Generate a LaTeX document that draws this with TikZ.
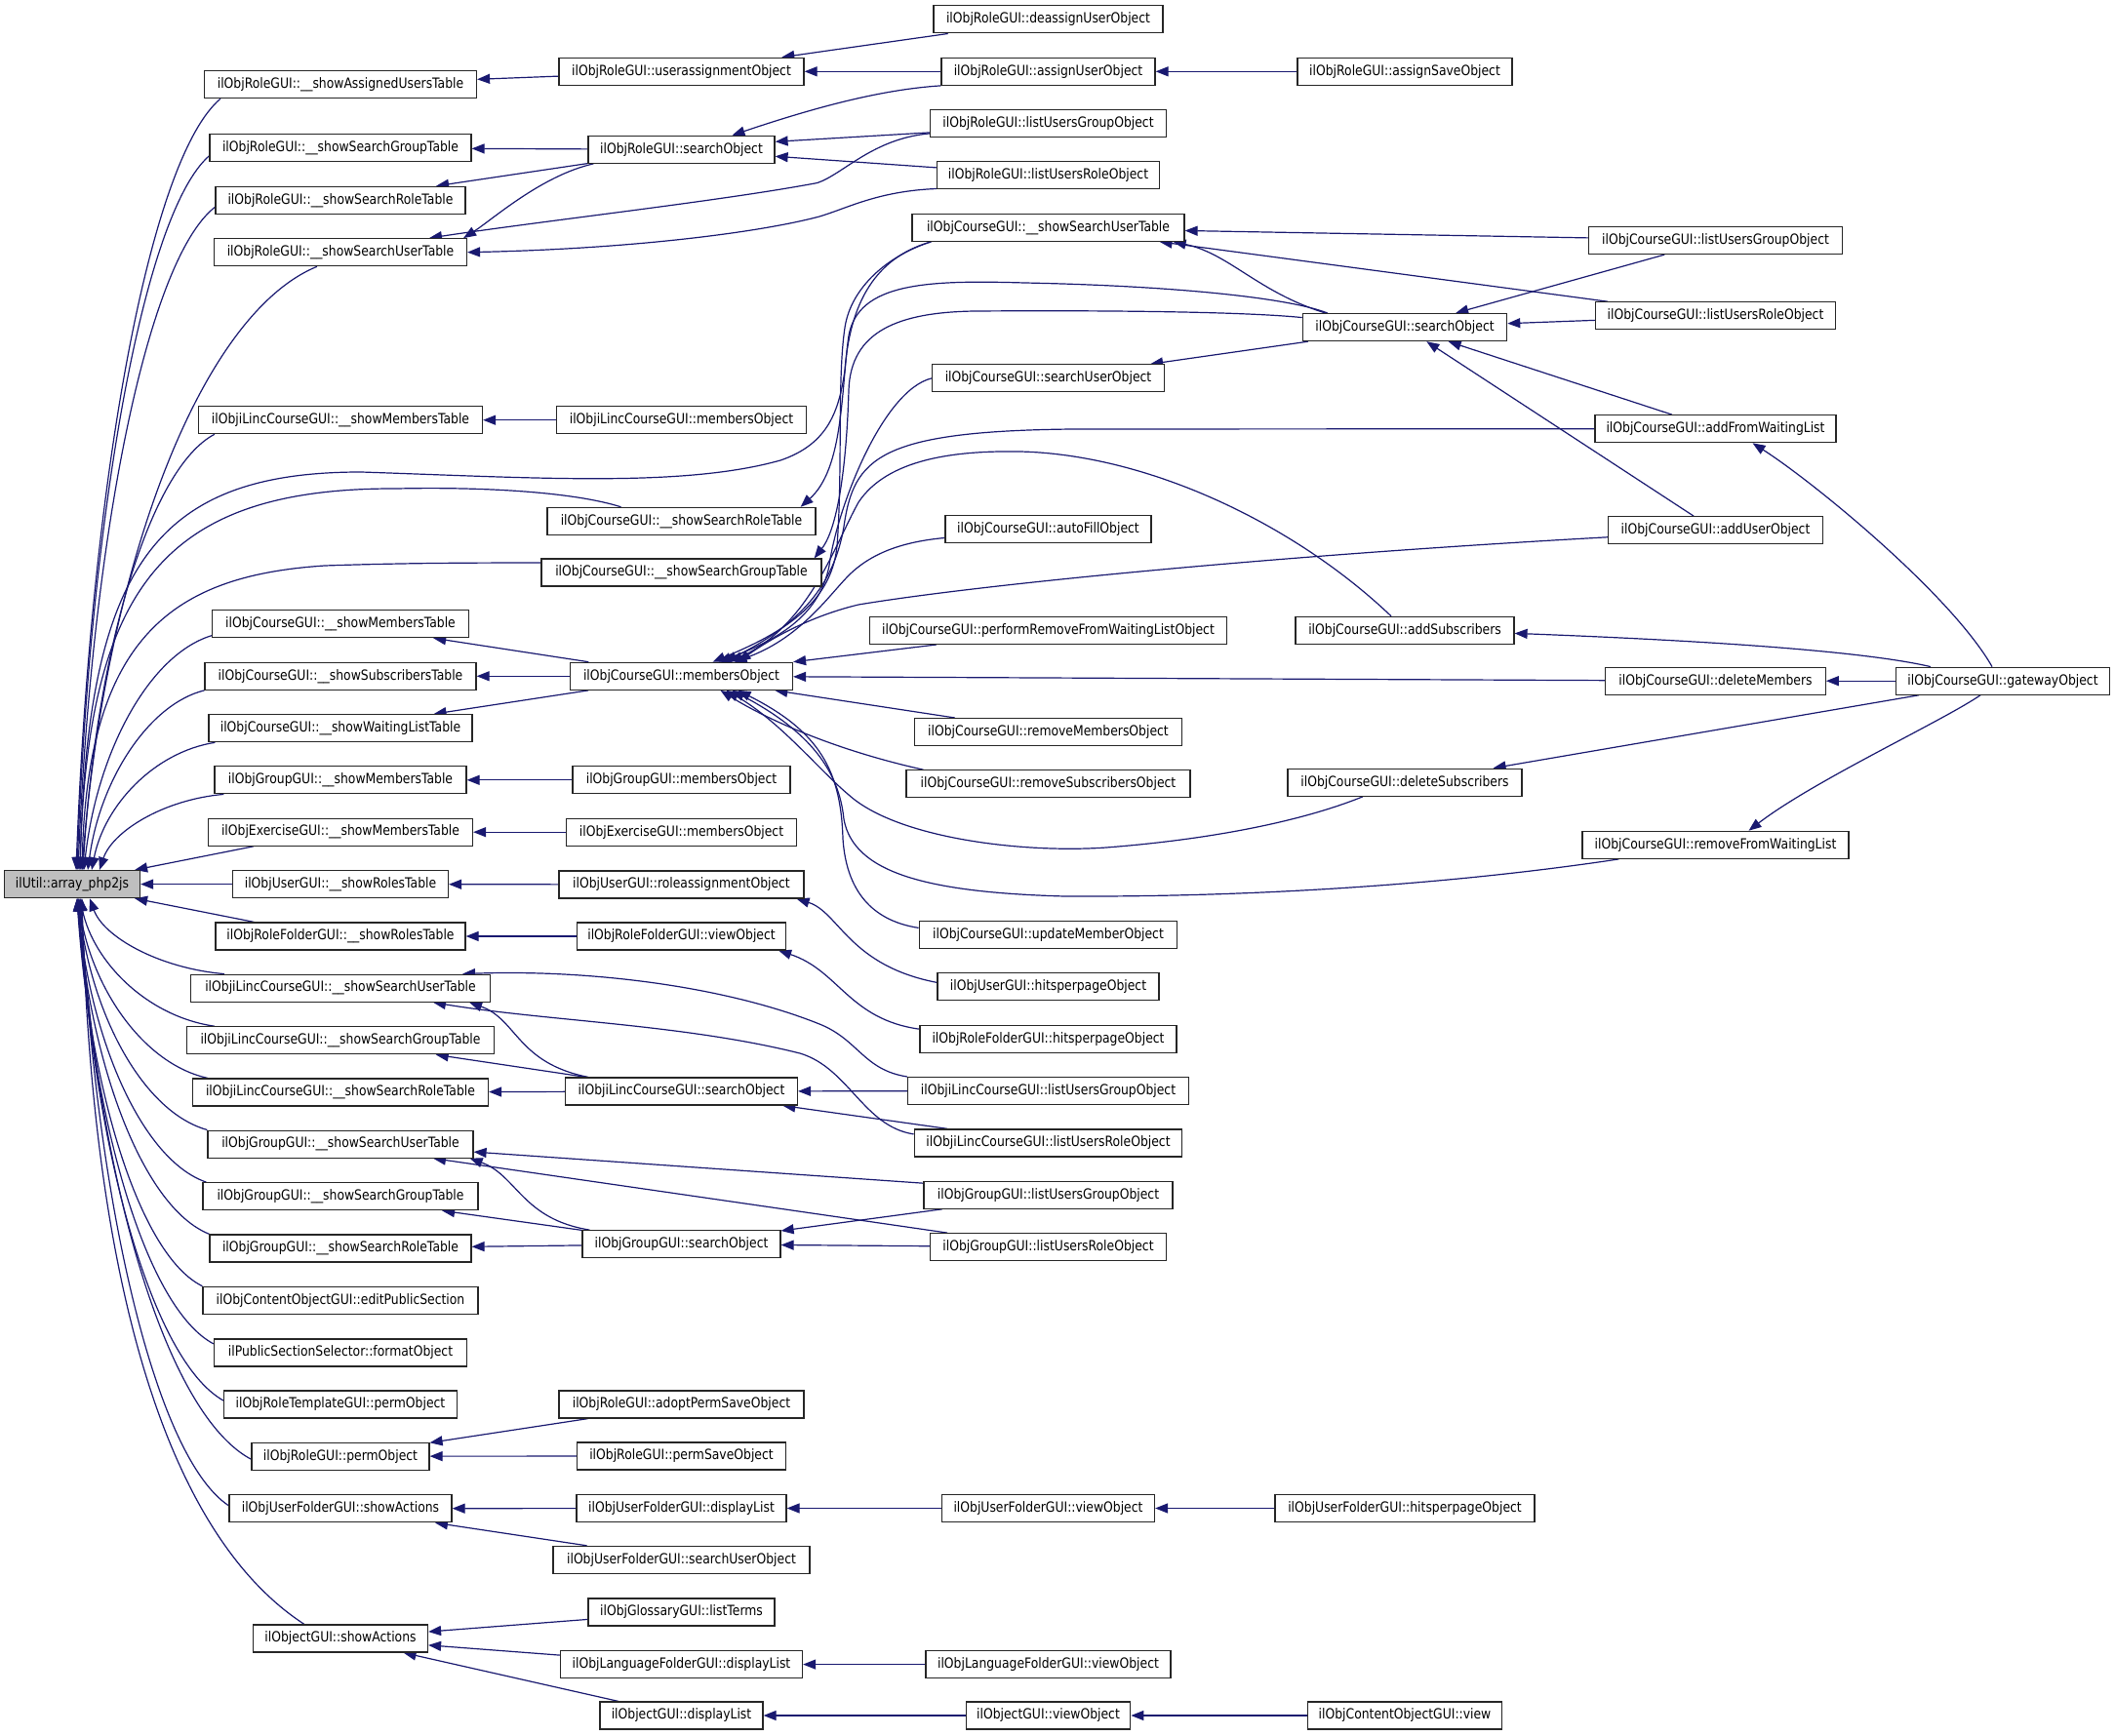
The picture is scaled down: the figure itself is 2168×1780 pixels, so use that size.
\documentclass[tikz,border=0pt]{standalone}
\usepackage{fontspec}
\newfontfamily\dgfont{DejaVu Sans}[FakeStretch=0.86]
\usetikzlibrary{arrows.meta}
\definecolor{dgblue}{HTML}{191970}
\pgfdeclarelayer{edgelayer}
\pgfsetlayers{edgelayer,main}
\tikzset{
  gbox/.style={draw=black!85, line width=0.6pt, fill=white, minimum height=14pt, inner sep=0pt,
    font=\dgfont\fontsize{7.2}{8}\selectfont},
  groot/.style={gbox, fill=black!25},
  gedge/.style={draw=dgblue, line width=0.6pt, arrows={Triangle[length=6.5pt,width=5pt,fill=dgblue]-}}
}
\newcommand\gnode[5]{\node[gbox, minimum width=#4pt] (#1) at (#2,#3) {#5};}
\begin{document}
\begin{tikzpicture}[x=0.5pt,y=-0.5pt]
\useasboundingbox (0,0) rectangle (2168,1780);
% ---------- nodes ----------
\node[groot, minimum width=69.5pt] (root) at (74,906.6) {ilUtil::array\_php2js};
% column 1
\gnode{c1a}{349}{86.7}{139.5}{ilObjRoleGUI::\_\_showAssignedUsersTable}
\gnode{c1b}{349}{151.8}{134}{ilObjRoleGUI::\_\_showSearchGroupTable}
\gnode{c1c}{349}{205.3}{128}{ilObjRoleGUI::\_\_showSearchRoleTable}
\gnode{c1d}{349}{258.7}{129.5}{ilObjRoleGUI::\_\_showSearchUserTable}
\gnode{c1e}{349}{430.7}{145.5}{ilObjiLincCourseGUI::\_\_showMembersTable}
\gnode{c1f}{349}{639.7}{131.5}{ilObjCourseGUI::\_\_showMembersTable}
\gnode{c1g}{349}{693.3}{139}{ilObjCourseGUI::\_\_showSubscribersTable}
\gnode{c1h}{349}{746.7}{135}{ilObjCourseGUI::\_\_showWaitingListTable}
\gnode{c1i}{349}{799.8}{129}{ilObjGroupGUI::\_\_showMembersTable}
\gnode{c1j}{349}{853.2}{135.5}{ilObjExerciseGUI::\_\_showMembersTable}
\gnode{c1k}{349}{906.6}{110.5}{ilObjUserGUI::\_\_showRolesTable}
\gnode{c1l}{349}{960}{128}{ilObjRoleFolderGUI::\_\_showRolesTable}
\gnode{c1m}{349}{1013.2}{153.5}{ilObjiLincCourseGUI::\_\_showSearchUserTable}
\gnode{c1n}{349}{1066.8}{157.5}{ilObjiLincCourseGUI::\_\_showSearchGroupTable}
\gnode{c1o}{349}{1120}{151.5}{ilObjiLincCourseGUI::\_\_showSearchRoleTable}
\gnode{c1p}{349}{1173.1}{136}{ilObjGroupGUI::\_\_showSearchUserTable}
\gnode{c1q}{349}{1226.7}{141}{ilObjGroupGUI::\_\_showSearchGroupTable}
\gnode{c1r}{349}{1279.9}{134}{ilObjGroupGUI::\_\_showSearchRoleTable}
\gnode{c1s}{349}{1333.3}{141}{ilObjContentObjectGUI::editPublicSection}
\gnode{c1t}{349}{1386.9}{129.5}{ilPublicSectionSelector::formatObject}
\gnode{c1u}{349}{1440}{119.5}{ilObjRoleTemplateGUI::permObject}
\gnode{c1v}{349}{1493.2}{91}{ilObjRoleGUI::permObject}
\gnode{c1w}{349}{1546.8}{114}{ilObjUserFolderGUI::showActions}
\gnode{c1x}{349}{1680}{89.5}{ilObjectGUI::showActions}
% column 2
\gnode{c2a}{698.5}{73.3}{125.5}{ilObjRoleGUI::userassignmentObject}
\gnode{c2b}{698.5}{153.3}{95.5}{ilObjRoleGUI::searchObject}
\gnode{c2c}{698.5}{430.7}{128}{ilObjiLincCourseGUI::membersObject}
\gnode{c2d}{698.5}{534.4}{137.5}{ilObjCourseGUI::\_\_showSearchRoleTable}
\gnode{c2e}{698.5}{587.1}{143.5}{ilObjCourseGUI::\_\_showSearchGroupTable}
\gnode{c2f}{698.5}{693.3}{114}{ilObjCourseGUI::membersObject}
\gnode{c2g}{698.5}{799.8}{111.5}{ilObjGroupGUI::membersObject}
\gnode{c2h}{698.5}{853.2}{118}{ilObjExerciseGUI::membersObject}
\gnode{c2i}{698.5}{907}{125.5}{ilObjUserGUI::roleassignmentObject}
\gnode{c2j}{698.5}{960}{107}{ilObjRoleFolderGUI::viewObject}
\gnode{c2k}{698.5}{1119}{119}{ilObjiLincCourseGUI::searchObject}
\gnode{c2l}{698.5}{1275.7}{101.5}{ilObjGroupGUI::searchObject}
\gnode{c2m}{698.5}{1440}{125.5}{ilObjRoleGUI::adoptPermSaveObject}
\gnode{c2n}{698.5}{1493}{107}{ilObjRoleGUI::permSaveObject}
\gnode{c2o}{698.5}{1546.5}{107.5}{ilObjUserFolderGUI::displayList}
\gnode{c2p}{698.5}{1599.4}{131.5}{ilObjUserFolderGUI::searchUserObject}
\gnode{c2q}{698.5}{1653}{95.5}{ilObjGlossaryGUI::listTerms}
\gnode{c2r}{698.5}{1706.6}{124}{ilObjLanguageFolderGUI::displayList}
\gnode{c2s}{698.5}{1759}{83.5}{ilObjectGUI::displayList}
% column 3
\gnode{c3a}{1074.5}{19.9}{117.5}{ilObjRoleGUI::deassignUserObject}
\gnode{c3b}{1074.5}{73.3}{109.5}{ilObjRoleGUI::assignUserObject}
\gnode{c3c}{1074.5}{126.9}{120.75}{ilObjRoleGUI::listUsersGroupObject}
\gnode{c3d}{1074.5}{179.9}{114}{ilObjRoleGUI::listUsersRoleObject}
\gnode{c3e}{1074.5}{233.3}{139.5}{ilObjCourseGUI::\_\_showSearchUserTable}
\gnode{c3f}{1074.5}{387.9}{119}{ilObjCourseGUI::searchUserObject}
\gnode{c3g}{1074.5}{542.5}{105.5}{ilObjCourseGUI::autoFillObject}
\gnode{c3h}{1074.5}{646.4}{183}{ilObjCourseGUI::performRemoveFromWaitingListObject}
\gnode{c3i}{1074.5}{750.6}{137.25}{ilObjCourseGUI::removeMembersObject}
\gnode{c3j}{1074.5}{803.8}{145.5}{ilObjCourseGUI::removeSubscribersObject}
\gnode{c3k}{1074.5}{958.4}{132.25}{ilObjCourseGUI::updateMemberObject}
\gnode{c3l}{1074.5}{1011.4}{113.5}{ilObjUserGUI::hitsperpageObject}
\gnode{c3m}{1074.5}{1065.2}{131.5}{ilObjRoleFolderGUI::hitsperpageObject}
\gnode{c3n}{1074.5}{1118.6}{144}{ilObjiLincCourseGUI::listUsersGroupObject}
\gnode{c3o}{1074.5}{1171.9}{137.25}{ilObjiLincCourseGUI::listUsersRoleObject}
\gnode{c3p}{1074.5}{1225.2}{127.5}{ilObjGroupGUI::listUsersGroupObject}
\gnode{c3q}{1074.5}{1278.7}{120.75}{ilObjGroupGUI::listUsersRoleObject}
\gnode{c3r}{1074.5}{1546.5}{109}{ilObjUserFolderGUI::viewObject}
\gnode{c3s}{1074.5}{1706.6}{125.5}{ilObjLanguageFolderGUI::viewObject}
\gnode{c3t}{1074.5}{1759}{84.25}{ilObjectGUI::viewObject}
% column 4
\gnode{c4a}{1440}{73.3}{110}{ilObjRoleGUI::assignSaveObject}
\gnode{c4b}{1440}{335.6}{104.7}{ilObjCourseGUI::searchObject}
\gnode{c4c}{1440}{646.4}{112}{ilObjCourseGUI::addSubscribers}
\gnode{c4d}{1440}{802.2}{120}{ilObjCourseGUI::deleteSubscribers}
\gnode{c4e}{1440}{1546.5}{133}{ilObjUserFolderGUI::hitsperpageObject}
\gnode{c4f}{1440}{1759}{99.5}{ilObjContentObjectGUI::view}
% column 5
\gnode{c5a}{1758.5}{246.5}{130}{ilObjCourseGUI::listUsersGroupObject}
\gnode{c5b}{1758.5}{323.8}{123}{ilObjCourseGUI::listUsersRoleObject}
\gnode{c5c}{1758.5}{439.7}{123.5}{ilObjCourseGUI::addFromWaitingList}
\gnode{c5d}{1758.5}{543.8}{110}{ilObjCourseGUI::addUserObject}
\gnode{c5e}{1758.5}{698.2}{112.75}{ilObjCourseGUI::deleteMembers}
\gnode{c5f}{1758.5}{866.3}{136.5}{ilObjCourseGUI::removeFromWaitingList}
% column 6
\gnode{c6}{2053}{698.2}{109.5}{ilObjCourseGUI::gatewayObject}
% ---------- edges ----------
\begin{pgfonlayer}{edgelayer}
\fill[white] (0,0) rectangle (2168,1780);
% root, callers above
\draw[gedge] ([xshift=2pt]root.north) .. controls (93,496) and (152.5,163.6) .. ([xshift=8.5pt]c1a.south west);
\draw[gedge] ([xshift=2.5pt]root.north) .. controls (92.6,526.5) and (147,219) .. ([yshift=-4pt]c1b.west);
\draw[gedge] ([xshift=3pt]root.north) .. controls (94,552.4) and (150.5,266.8) .. ([yshift=-3.5pt]c1c.west);
\draw[gedge] ([xshift=5pt]root.north) .. controls (108,582.6) and (204.8,322.5) .. ([xshift=-12pt]c1d.south);
\draw[gedge] ([xshift=5.5pt]root.north) .. controls (98.6,668.5) and (153,480.5) .. ([xshift=8.5pt]c1e.south west);
\draw[gedge] ([xshift=4pt]root.north) .. controls (90,580) and (160,484) .. (370,484)
   .. controls (550,490) and (700,500) .. (800,472) .. controls (850,455) and (860,420) .. (866,380)
   .. controls (872,300) and (905,262) .. ([xshift=10pt]c3e.south west);
\draw[gedge] ([xshift=4pt]root.north) .. controls (90,600) and (170,500) .. (407,501)
   .. controls (500,499) and (590,505) .. ([xshift=-31pt]c2d.north);
\draw[gedge] ([xshift=5pt]root.north) .. controls (90,650) and (180,590) .. (333,580)
   .. controls (420,577) and (500,577) .. ([yshift=5pt]c2e.west);
\draw[gedge] ([xshift=6pt]root.north) .. controls (99.2,772.4) and (152,671.6) .. ([yshift=-6pt]c1f.west);
\draw[gedge] ([xshift=8pt]root.north) .. controls (102.5,799.9) and (152.3,722) .. (c1g.south west);
\draw[gedge] ([xshift=10pt]root.north) .. controls (106.7,826.5) and (157.4,771.2) .. ([xshift=3.5pt]c1h.south west);
\draw[gedge] ([xshift=14pt]root.north) .. controls (115,853) and (166.5,820) .. ([xshift=5pt]c1i.south west);
\draw[gedge] ([xshift=-3pt]root.north east) -- ([xshift=23.5pt]c1j.south west);
\draw[gedge] (root) -- (c1k);
% root, callers below
\draw[gedge] ([xshift=-3pt]root.south east) -- ([xshift=20pt]c1l.north west);
\draw[gedge] ([xshift=9pt]root.south) .. controls (105.9,960) and (161.5,992.5) .. ([xshift=17.5pt]c1m.north west);
\draw[gedge] ([xshift=4pt]root.south) .. controls (95.9,986.8) and (151.4,1042.4) .. ([xshift=14.5pt]c1n.north west);
\draw[gedge] ([xshift=3pt]root.south) .. controls (93.5,1013.3) and (147.3,1091.2) .. ([xshift=8pt]c1o.north west);
\draw[gedge] ([xshift=3pt]root.south) .. controls (93.3,1040) and (146.6,1140.2) .. (c1p.north west);
\draw[gedge] ([xshift=2.5pt]root.south) .. controls (92.4,1066.8) and (145.8,1189.5) .. ([xshift=2pt]c1q.north west);
\draw[gedge] ([xshift=2.5pt]root.south) .. controls (92.6,1093.3) and (147,1238.4) .. (c1r.north west);
\draw[gedge] ([xshift=2.5pt]root.south) .. controls (92,1120) and (143.6,1287.4) .. (c1s.north west);
\draw[gedge] ([xshift=3pt]root.south) .. controls (94,1149.3) and (150,1341.4) .. ([yshift=4.5pt]c1t.west);
\draw[gedge] ([xshift=3.5pt]root.south) .. controls (95.9,1178.2) and (155.3,1394.4) .. ([yshift=2pt]c1u.west);
\draw[gedge] ([xshift=4pt]root.south) .. controls (99.6,1208.3) and (170,1450) .. ([yshift=-1.5pt]c1v.west);
\draw[gedge] ([xshift=4.5pt]root.south) .. controls (98.2,1232.2) and (159,1493.8) .. ([yshift=1.5pt]c1w.west);
\draw[gedge] ([xshift=5pt]root.south) .. controls (95.4,1330.75) and (175.4,1576.6) .. ([xshift=26.5pt]c1x.north west);
% role GUI
\draw[gedge] (c1a) -- (c2a);
\draw[gedge] (c2a) -- (c3a);
\draw[gedge] (c2a) -- (c3b);
\draw[gedge] (c3b) -- (c4a);
\draw[gedge] (c1b) -- (c2b);
\draw[gedge] (c1c) -- (c2b);
\draw[gedge] ([xshift=-2pt]c1d.north east) .. controls (505,225) and (555,180) .. ([xshift=3pt]c2b.south west);
\draw[gedge] ([xshift=45.5pt]c1d.north) .. controls (560,226) and (740,206) .. (838,187.5)
   .. controls (865,178) and (895,142) .. ([yshift=-5pt]c3c.west);
\draw[gedge] (c1d.east) .. controls (650,255) and (780,238) .. (840,222)
   .. controls (870,213) and (900,196) .. ([yshift=0.5pt]c3d.south west);
\draw[gedge] ([xshift=26pt]c2b.north) .. controls (830,112) and (900,92) .. (c3b.south west);
\draw[gedge] ([yshift=4pt]c2b.east) -- ([yshift=-4.5pt]c3c.west);
\draw[gedge] ([yshift=-3.5pt]c2b.east) -- ([yshift=4pt]c3d.west);
\draw[gedge] (c1e) -- (c2c);
% course GUI
\draw[gedge] (c1f) -- (c2f);
\draw[gedge] (c1g) -- (c2f);
\draw[gedge] (c1h) -- (c2f);
\draw[gedge] ([xshift=-8pt]c2d.north east) .. controls (865,480) and (862,400) .. (870,344)
   .. controls (880,290) and (950,287) .. (1050,290) .. controls (1200,293) and (1320,305) .. ([xshift=13pt]c4b.north west);
\draw[gedge] ([xshift=-4pt]c2e.north east) .. controls (860,540) and (868,470) .. (870,400)
   .. controls (872,340) and (920,320) .. (1000,319) .. controls (1150,318) and (1280,320) .. ([yshift=5pt]c4b.west);
\draw[gedge] ([yshift=-1.6pt]c3e.east) -- ([yshift=1.3pt]c5a.west);
\draw[gedge] ([xshift=-13pt]c3e.south east) -- ([xshift=6.5pt]c5b.north west);
\draw[gedge] ([xshift=-6pt]c3e.south east) .. controls (1260,260) and (1290,300) .. ([xshift=12pt]c4b.north west);
\draw[gedge] ([xshift=-7.5pt]c3f.north east) -- ([xshift=3pt]c4b.south west);
\draw[gedge] (c4b) -- (c5a);
\draw[gedge] (c4b) -- (c5b);
\draw[gedge] (c4b) -- (c5c);
\draw[gedge] (c4b) -- (c5d);
\draw[gedge] ([xshift=19pt]c5c.south) .. controls (1860,495) and (2000,610) .. ([xshift=-5.5pt]c6.north);
\draw[gedge] ([yshift=-1.5pt]c4c.east) .. controls (1700,655) and (1900,665) .. ([xshift=18pt]c6.north west);
\draw[gedge] (c5e) -- (c6);
\draw[gedge] ([xshift=-15pt]c4d.north east) -- ([xshift=12pt]c6.south west);
\draw[gedge] ([xshift=17pt]c5f.north) .. controls (1860,800) and (1990,740) .. ([xshift=-11.5pt]c6.south);
% members object callers
\draw[gedge] ([xshift=16pt]c2f.north) .. controls (800,650) and (852,620) .. (858,560)
   .. controls (864,480) and (858,390) .. (866,336) .. controls (872,295) and (910,262) .. ([xshift=10pt]c3e.south west);
\draw[gedge] ([xshift=19pt]c2f.north) .. controls (800,655) and (840,630) .. (850,580)
   .. controls (858,520) and (905,400) .. (c3f.west);
\draw[gedge] ([xshift=22pt]c2f.north) .. controls (820,640) and (855,600) .. (865,540)
   .. controls (875,470) and (900,442) .. (1100,440) -- (c5c.west);
\draw[gedge] ([xshift=25pt]c2f.north) .. controls (830,640) and (855,560) .. (880,515)
   .. controls (910,470) and (980,462) .. (1045,463) .. controls (1180,466) and (1330,540) .. ([xshift=-7pt]c4c.north);
\draw[gedge] ([xshift=27pt]c2f.north) .. controls (820,655) and (850,610) .. (870,590)
   .. controls (895,565) and (930,555) .. ([yshift=-4.5pt]c3g.west);
\draw[gedge] ([xshift=29pt]c2f.north) .. controls (790,655) and (830,632) .. (880,620)
   .. controls (1000,600) and (1300,570) .. ([yshift=-3.5pt]c5d.west);
\draw[gedge] (c2f.north east) -- ([xshift=34.5pt]c3h.south west);
\draw[gedge] (c2f) -- (c5e);
\draw[gedge] (c2f) -- (c3i);
\draw[gedge] ([xshift=20pt]c2f.south) .. controls (790,740) and (860,770) .. ([xshift=9pt]c3j.north west);
\draw[gedge] ([xshift=23pt]c2f.south) .. controls (800,740) and (840,790) .. (870,815)
   .. controls (920,860) and (1050,875) .. (1134,869) .. controls (1250,860) and (1340,840) .. ([xshift=-21.5pt]c4d.south);
\draw[gedge] ([xshift=26pt]c2f.south) .. controls (830,750) and (860,790) .. (865,840)
   .. controls (875,895) and (950,915) .. (1091,919) .. controls (1300,920) and (1500,905) .. ([xshift=19pt]c5f.south west);
\draw[gedge] ([xshift=29pt]c2f.south) .. controls (840,750) and (862,790) .. (864,860)
   .. controls (868,920) and (900,945) .. ([yshift=3.5pt]c3k.west);
% group / exercise / user / role folder
\draw[gedge] (c1i) -- (c2g);
\draw[gedge] (c1j) -- (c2h);
\draw[gedge] (c1k) -- (c2i);
\draw[gedge] (c1l) -- (c2j);
\draw[gedge] ([xshift=-4pt]c2i.south east) .. controls (860,935) and (870,990) .. ([yshift=2pt]c3l.west);
\draw[gedge] ([xshift=-4pt]c2j.south east) .. controls (860,995) and (870,1045) .. ([yshift=5pt]c3m.west);
% iLinc
\draw[gedge] ([xshift=-14.5pt]c1m.north east) .. controls (600,994) and (740,1010) .. (840,1050)
   .. controls (880,1066) and (885,1097) .. (c3n.north west);
\draw[gedge] ([xshift=47.5pt]c1m.south) .. controls (560,1047) and (700,1050) .. (820,1080)
   .. controls (870,1095) and (885,1155) .. ([yshift=4.5pt]c3o.west);
\draw[gedge] ([xshift=-11pt]c1m.south east) .. controls (530,1045) and (530,1090) .. ([xshift=12pt]c2k.north west);
\draw[gedge] (c1n) -- (c2k);
\draw[gedge] (c1o) -- (c2k);
\draw[gedge] (c2k) -- (c3n);
\draw[gedge] (c2k) -- (c3o);
% group search
\draw[gedge] ([yshift=-4pt]c1p.east) -- ([yshift=6pt]c3p.west);
\draw[gedge] ([xshift=47.5pt]c1p.south) -- ([xshift=9pt]c3q.north west);
\draw[gedge] ([xshift=-2pt]c1p.south east) .. controls (530,1205) and (535,1250) .. ([xshift=4pt]c2l.north west);
\draw[gedge] (c1q) -- (c2l);
\draw[gedge] (c1r) -- (c2l);
\draw[gedge] (c2l) -- (c3p);
\draw[gedge] (c2l) -- (c3q);
% permissions and actions
\draw[gedge] (c1v) -- (c2m);
\draw[gedge] (c1v) -- (c2n);
\draw[gedge] (c1w) -- (c2o);
\draw[gedge] (c1w) -- (c2p);
\draw[gedge] (c2o) -- (c3r);
\draw[gedge] (c3r) -- (c4e);
\draw[gedge] (c1x) -- (c2q);
\draw[gedge] (c1x) -- (c2r);
\draw[gedge] (c1x) -- (c2s);
\draw[gedge] (c2r) -- (c3s);
\draw[gedge] (c2s) -- (c3t);
\draw[gedge] (c3t) -- (c4f);
\end{pgfonlayer}
\end{tikzpicture}
\end{document}
